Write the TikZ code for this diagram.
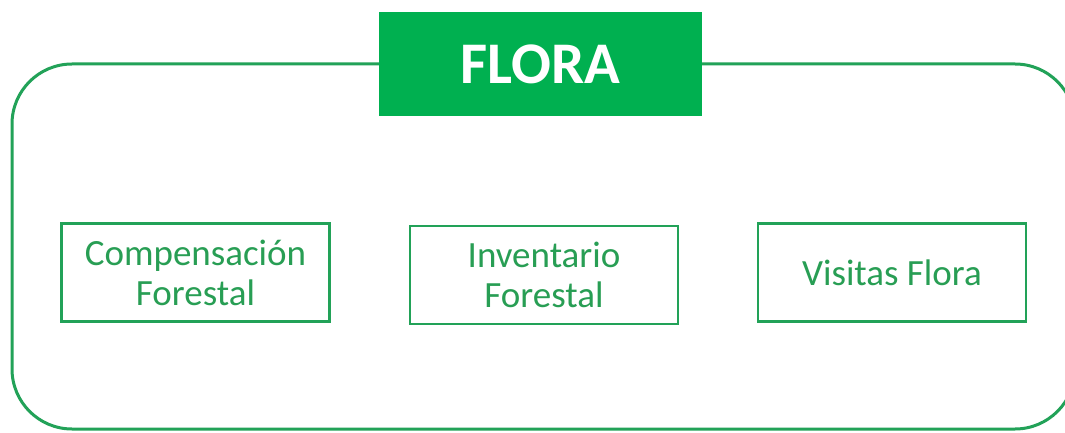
\documentclass[tikz,border=0pt]{standalone}
\usepackage{fontspec}
\setmainfont{Carlito}
\definecolor{flgreen}{RGB}{0,176,80}
\definecolor{lngreen}{RGB}{34,162,88}
\definecolor{txgreen}{RGB}{40,158,84}
\begin{document}
\begin{tikzpicture}[x=1pt,y=1pt,
  itembox/.style={draw=lngreen,line width=2.6pt,minimum width=268pt,minimum height=98pt,
    inner sep=0pt,align=center,text=txgreen,
    font=\fontsize{37}{40}\selectfont},
  titlebox/.style={fill=flgreen,minimum width=323pt,minimum height=104pt,inner sep=0pt,
    text=white,font=\fontsize{59}{64}\bfseries\selectfont}]
\useasboundingbox (0,0) rectangle (1065,432);
\clip (0,0) rectangle (1065,432);
\fill[white] (0,0) rectangle (1065,432);
\draw[lngreen,line width=3pt,rounded corners=60pt] (12,368) rectangle (1075,3);
\node[titlebox] (title) at (540.5,368) {FLORA};
\node[itembox] (comp) at (195.5,159.5) {Compensación\\Forestal};
\node[itembox] (inv) at (544,157) {Inventario\\Forestal};
\node[itembox] (vis) at (892,159.5) {Visitas Flora};
\end{tikzpicture}
\end{document}
